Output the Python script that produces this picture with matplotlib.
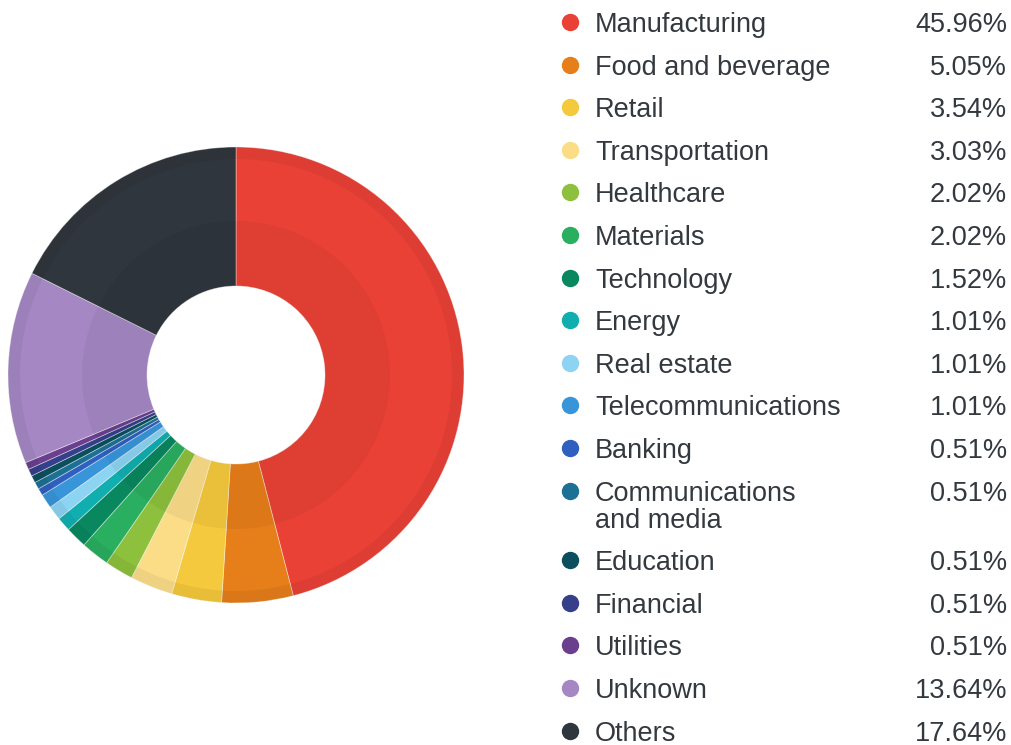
import matplotlib.pyplot as plt
from matplotlib.lines import Line2D

labels = ["Manufacturing", "Food and beverage", "Retail", "Transportation",
          "Healthcare", "Materials", "Technology", "Energy", "Real estate",
          "Telecommunications", "Banking", "Communications\nand media",
          "Education", "Financial", "Utilities", "Unknown", "Others"]
values = [45.96, 5.05, 3.54, 3.03, 2.02, 2.02, 1.52, 1.01, 1.01, 1.01,
          0.51, 0.51, 0.51, 0.51, 0.51, 13.64, 17.64]
colors = ["#EA4136", "#E67E1A", "#F5C93D", "#FBDD88", "#8DC03C", "#2AAE60",
          "#09875F", "#11AEAF", "#8DD3F2", "#3895D9", "#2F5FBF", "#1C7094",
          "#0B4E5E", "#36408A", "#6A3F8E", "#A587C4", "#30363D"]

W, H = 1012, 745
fig = plt.figure(figsize=(W / 100, H / 100), dpi=100)
plt.rcParams['font.family'] = ['Liberation Sans', 'DejaVu Sans']

# donut
cx, cy, r_out = 236, 375, 228
ax = fig.add_axes([(cx - r_out) / W, (H - cy - r_out) / H, 2 * r_out / W, 2 * r_out / H])
r_in = 89 / r_out
ax.pie(values, colors=colors, startangle=90, counterclock=False, radius=1,
       wedgeprops=dict(width=1 - r_in, edgecolor=(1, 1, 1, 0.45), linewidth=0.6))
# inner darker band
ax.pie(values, colors=["black"] * len(values), startangle=90, counterclock=False,
       radius=154 / r_out, wedgeprops=dict(width=(154 - 89) / r_out, alpha=0.045, linewidth=0))
# outer rim
ax.pie(values, colors=["black"] * len(values), startangle=90, counterclock=False,
       radius=1, wedgeprops=dict(width=12 / r_out, alpha=0.05, linewidth=0))
ax.set_xlim(-1, 1)
ax.set_ylim(-1, 1)
ax.set_aspect('equal')
ax.axis('off')

# legend
text_color = "#33393F"
y = 22
for lab, val, col in zip(labels, values, colors):
    fig.add_artist(Line2D([570 / W], [1 - y / H], transform=fig.transFigure,
                          marker='o', markersize=11.5, color=col, linestyle='none'))
    lines = lab.split("\n")
    for i, ln in enumerate(lines):
        fig.text(595 / W, 1 - (y + 3 + i * 27) / H, ln, fontsize=19.5,
                 color=text_color, va='center', ha='left')
    fig.text(1007 / W, 1 - (y + 3) / H, f"{val:.2f}%", fontsize=19.5,
             color=text_color, va='center', ha='right')
    y += 42.6 + 27 * (len(lines) - 1)

fig.savefig("out.png", dpi=100)
